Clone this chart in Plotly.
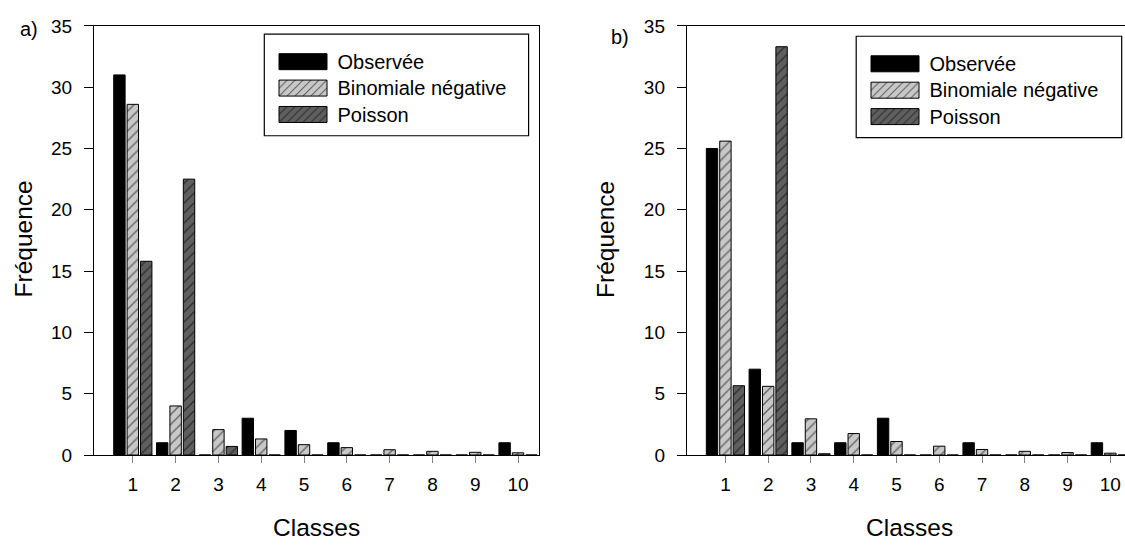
import plotly.graph_objects as go

# ---------------- data ----------------
classes = [1, 2, 3, 4, 5, 6, 7, 8, 9, 10]
tick_labels = ["1", "2", "3", "4", "5", "6", "7", "8", "9", "10"]
series_names = ["Observée", "Binomiale négative", "Poisson"]

obs_a = [31, 1, 0, 3, 2, 1, 0, 0, 0, 1]
negbin_a = [28.6, 4.0, 2.07, 1.31, 0.84, 0.6, 0.43, 0.3, 0.22, 0.18]
poisson_a = [15.8, 22.5, 0.7, 0, 0, 0, 0, 0, 0, 0]

obs_b = [25, 7, 1, 1, 3, 0, 1, 0, 0, 1]
negbin_b = [25.6, 5.6, 2.95, 1.75, 1.1, 0.72, 0.45, 0.3, 0.2, 0.15]
poisson_b = [5.65, 33.3, 0.1, 0, 0, 0, 0, 0, 0, 0]

y_ticks = [0, 5, 10, 15, 20, 25, 30, 35]

# ---------------- style ----------------
FONT = "Liberation Sans, Arial, sans-serif"
W, H = 1125, 552
LIGHT = "#c8c8c8"
DARK = "#5f5f5f"


def px_x(v):
    return v / W


def px_y(v):
    return 1 - v / H


styles = [
    dict(color="black", line=dict(color="black", width=1)),
    dict(color=LIGHT, line=dict(color="black", width=1),
         pattern=dict(shape="/", fgcolor="black", bgcolor=LIGHT, size=7, solidity=0.2)),
    dict(color=DARK, line=dict(color="black", width=1),
         pattern=dict(shape="/", fgcolor="black", bgcolor=DARK, size=7, solidity=0.2)),
]

fig = go.Figure()

panels = [
    ("x", "y", "legend", [obs_a, negbin_a, poisson_a]),
    ("x2", "y2", "legend2", [obs_b, negbin_b, poisson_b]),
]
for xa, ya, lg, series in panels:
    for name, vals, st in zip(series_names, series, styles):
        fig.add_trace(go.Bar(
            x=classes, y=vals, name=f"<span style='font-size:20px'>{name}</span>",
            marker=st, xaxis=xa, yaxis=ya, legend=lg, showlegend=True,
        ))

# axis geometry (pixels -> paper)
ya_dom = [px_y(462.6), px_y(16.5)]
axis_common = dict(showline=True, linecolor="black", linewidth=1, showgrid=False,
                   zeroline=False, ticks="outside", tickwidth=1)
xcommon = dict(axis_common, tickmode="array", tickvals=classes, ticktext=tick_labels,
               ticklen=7, tickcolor="#808080", ticklabelstandoff=5,
               tickfont=dict(family=FONT, size=19, color="black"))
ycommon = dict(axis_common, tickmode="array", tickvals=y_ticks, range=[0, 35],
               ticklen=9, tickcolor="black", ticklabelstandoff=8,
               tickfont=dict(family=FONT, size=19, color="black"))

fig.update_layout(
    width=W, height=H,
    margin=dict(l=0, r=0, t=0, b=0),
    paper_bgcolor="white", plot_bgcolor="white",
    barmode="group", bargap=0.06, bargroupgap=0.15,
    font=dict(family=FONT, color="black"),
    xaxis=dict(xcommon, domain=[px_x(94), px_x(539)], range=[0.093, 10.49],
               mirror=True, anchor="y"),
    yaxis=dict(ycommon, domain=ya_dom, mirror=True, anchor="x"),
    xaxis2=dict(xcommon, domain=[px_x(686.8), 1.0], range=[0.097, 10.343],
                mirror=True, anchor="y2"),
    yaxis2=dict(ycommon, domain=ya_dom, mirror=False, anchor="x2"),
    legend=dict(x=px_x(268.5), y=px_y(34.8), xanchor="left", yanchor="top",
                bgcolor="rgba(0,0,0,0)", borderwidth=0, itemwidth=59,
                font=dict(family=FONT, size=18, color="black"), traceorder="normal"),
    legend2=dict(x=px_x(860.5), y=px_y(37.0), xanchor="left", yanchor="top",
                 bgcolor="rgba(0,0,0,0)", borderwidth=0, itemwidth=59,
                 font=dict(family=FONT, size=18, color="black"), traceorder="normal"),
    showlegend=True,
)

# legend frames
for x0, x1, y0, y1 in [(264.3, 528.6, 25, 130.7), (856.2, 1121.7, 27.3, 132.7)]:
    fig.add_shape(type="rect", xref="paper", yref="paper",
                  x0=px_x(x0), x1=px_x(x1), y0=px_y(y1), y1=px_y(y0),
                  line=dict(color="black", width=1.2), fillcolor="rgba(0,0,0,0)",
                  layer="above")

# texts
ann = [
    dict(text="a)", x=px_x(28.5), y=px_y(20), size=20, angle=0),
    dict(text="b)", x=px_x(619.5), y=px_y(28.5), size=20, angle=0),
    dict(text="Fréquence", x=px_x(23), y=px_y(238.5), size=24.5, angle=-90),
    dict(text="Fréquence", x=px_x(605.5), y=px_y(238.5), size=24.5, angle=-90),
    dict(text="Classes", x=px_x(316.5), y=px_y(538.2), size=24.5, angle=0),
    dict(text="Classes", x=px_x(909), y=px_y(538.2), size=24.5, angle=0),
]
for a in ann:
    fig.add_annotation(text=a["text"], x=a["x"], y=a["y"], xref="paper", yref="paper",
                       xanchor="center", yanchor="middle", showarrow=False,
                       textangle=a["angle"], font=dict(family=FONT, size=a["size"], color="black"))

post = """
document.documentElement.style.margin = '0';
document.body.style.margin = '0';
document.body.style.padding = '0';
document.body.style.overflow = 'hidden';
var gd = document.getElementById('{plot_id}');
function widen(){
  gd.querySelectorAll('g.legendpoints path').forEach(function(p){
    p.setAttribute('d','M-24,8H24V-8H-24Z');
  });
}
widen();
gd.on('plotly_afterplot', widen);
setTimeout(widen, 50);
"""

fig.write_html("out.html", post_script=post, config={"displayModeBar": False})
